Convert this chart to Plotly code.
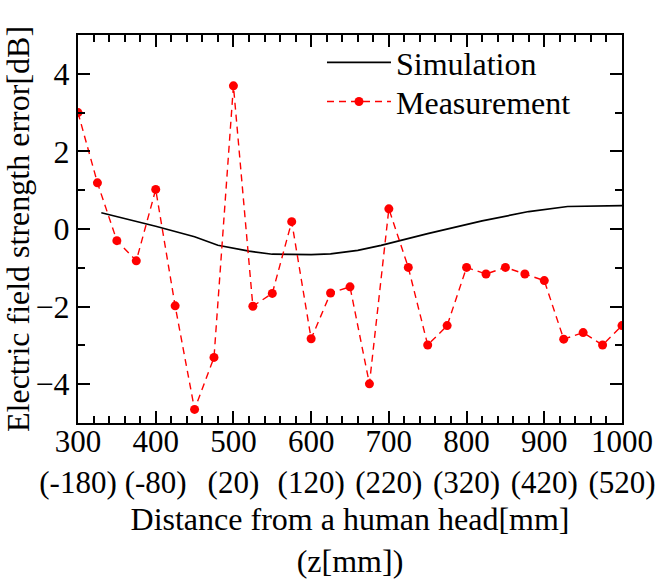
import plotly.graph_objects as go

# Measurement data (distance from head in mm, error in dB)
meas_x = [300, 325, 350, 375, 400, 425, 450, 475, 500, 525, 550, 575, 600, 625,
          650, 675, 700, 725, 750, 775, 800, 825, 850, 875, 900, 925, 950, 975, 1000]
meas_y = [3.0, 1.19, -0.3, -0.82, 1.02, -1.98, -4.65, -3.31, 3.69, -1.99, -1.66, 0.19,
          -2.83, -1.65, -1.49, -3.99, 0.52, -0.99, -2.99, -2.49, -0.99, -1.16, -0.99,
          -1.16, -1.33, -2.84, -2.67, -2.99, -2.49]

# Simulation data
sim_x = [330, 400, 450, 480, 520, 550, 600, 625, 660, 690, 750, 820, 880, 930, 1000]
sim_y = [0.42, 0.07, -0.2, -0.42, -0.57, -0.65, -0.66, -0.64, -0.55, -0.42, -0.12,
         0.21, 0.45, 0.58, 0.6]

tick_vals = [300, 400, 500, 600, 700, 800, 900, 1000]
tick_text = ["300<br>(-180)", "400<br>(-80)", "500<br>(20)", "600<br>(120)",
             "700<br>(220)", "800<br>(320)", "900<br>(420)", "1000<br>(520)"]
y_ticks = [-4, -2, 0, 2, 4]

FONT = "Liberation Serif"

fig = go.Figure()
fig.add_trace(go.Scatter(
    x=sim_x, y=sim_y, mode="lines", name="Simulation",
    line=dict(color="black", width=1.7), legend="legend",
))
fig.add_trace(go.Scatter(
    x=meas_x, y=meas_y, mode="lines+markers", name="Measurement",
    line=dict(color="#ff0000", width=1.4, dash="7px,5px"),
    marker=dict(color="#ff0000", size=9, symbol="circle"), legend="legend2",
))

axis_common = dict(
    showline=True, linecolor="black", linewidth=2, mirror="allticks",
    ticks="inside", tickcolor="black", tickwidth=1.5, ticklen=12,
    showgrid=False, zeroline=False, automargin=False,
)

fig.update_xaxes(
    range=[300, 1000], tickvals=tick_vals, ticktext=tick_text,
    tickfont=dict(family=FONT, size=31, color="black"),
    minor=dict(ticks="inside", dtick=20, tick0=300, ticklen=7, tickwidth=1.5,
               tickcolor="black", showgrid=False),
    title=dict(text="Distance from a human head[mm]<br>(z[mm])",
               font=dict(family=FONT, size=32, color="black"), standoff=21),
    **axis_common,
)
try:
    fig.update_xaxes(ticklabelstandoff=-10)
except ValueError:
    pass

fig.update_yaxes(
    range=[-5, 5], tickvals=y_ticks,
    tickfont=dict(family=FONT, size=32, color="black"),
    minor=dict(ticks="inside", dtick=1, tick0=-5, ticklen=7, tickwidth=1.5,
               tickcolor="black", showgrid=False),
    title=dict(text="Electric field strength error[dB]",
               font=dict(family=FONT, size=32, color="black"), standoff=7),
    **axis_common,
)

leg_common = dict(xanchor="left", yanchor="top", bgcolor="rgba(0,0,0,0)",
                  borderwidth=0, itemwidth=64,
                  font=dict(family=FONT, size=32, color="black"))

fig.update_layout(
    width=659, height=579,
    margin=dict(l=78, r=37, t=35, b=156),
    paper_bgcolor="white", plot_bgcolor="white",
    font=dict(family=FONT, size=31, color="black"),
    showlegend=True,
    legend=dict(x=0.4485, y=1.0, **leg_common),
    legend2=dict(x=0.4485, y=0.899, **leg_common),
)

fig.write_html("out.html", config={"displayModeBar": False},
               post_script="document.body.style.margin='0';")
